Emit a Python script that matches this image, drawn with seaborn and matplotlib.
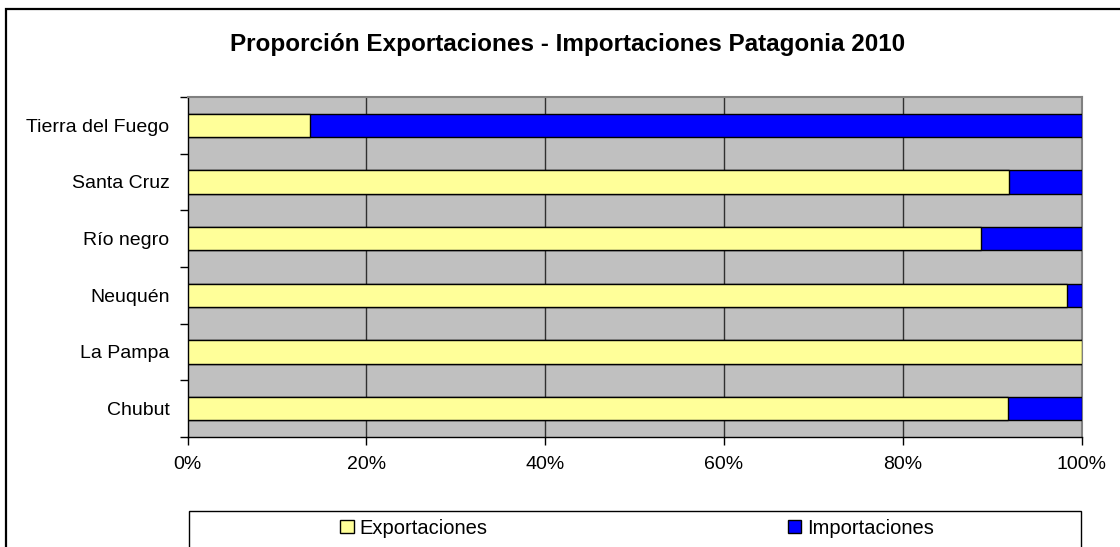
import matplotlib
matplotlib.use("Agg")
import matplotlib.pyplot as plt
import matplotlib.patches as mpatches
from matplotlib.ticker import FixedLocator, PercentFormatter
import numpy as np
import pandas as pd
import seaborn as sns

provincias = ["Tierra del Fuego", "Santa Cruz", "Río negro", "Neuquén", "La Pampa", "Chubut"]
exportaciones = [13.7, 91.9, 88.8, 98.4, 100.0, 91.75]
importaciones = [86.3, 8.1, 11.2, 1.6, 0.0, 8.25]
x_ticks = [0, 20, 40, 60, 80, 100]

df = pd.DataFrame({
    "provincia": provincias,
    "exp": exportaciones,
    "imp": importaciones,
})
df["total"] = df["exp"] + df["imp"]

sns.set_theme(style="white")
plt.rcParams["font.family"] = ["Liberation Sans", "DejaVu Sans"]
plt.rcParams["text.color"] = "black"
plt.rcParams["xtick.color"] = "black"
plt.rcParams["ytick.color"] = "black"
plt.rcParams["axes.labelcolor"] = "black"

W, H = 1120, 547
fig = plt.figure(figsize=(W / 100, H / 100), dpi=100)
ax = fig.add_axes([187.5 / W, 1 - 437 / H, (1081.5 - 187.5) / W, (437 - 97) / H])
ax.set_facecolor("#C0C0C0")

col_exp = "#FFFF99"
col_imp = "#0000FF"

# stacked horizontal bars: full length in blue, exports drawn over it
sns.barplot(data=df, y="provincia", x="total", orient="h", color=col_imp,
            saturation=1, width=0.41, edgecolor="black", linewidth=1, ax=ax, zorder=3)
sns.barplot(data=df, y="provincia", x="exp", orient="h", color=col_exp,
            saturation=1, width=0.41, edgecolor="black", linewidth=1, ax=ax, zorder=4)

ax.set_xlim(0, 100)
ax.set_ylim(len(provincias) - 0.5, -0.5)
ax.set_xticks(x_ticks)
ax.xaxis.set_major_formatter(PercentFormatter(decimals=0))
ax.set_xlabel("")
ax.set_ylabel("")

for v in x_ticks[1:-1]:
    ax.axvline(v, color="#303030", linewidth=1, zorder=1)

ax.tick_params(axis="x", which="major", direction="out", length=6, width=1,
               color="black", labelcolor="black", labelsize=14, pad=8, bottom=True)
ax.tick_params(axis="y", which="major", length=0, labelsize=14, pad=13,
               labelcolor="black", left=True)
ax.yaxis.set_minor_locator(FixedLocator(np.arange(-0.5, len(provincias), 1.0)))
ax.tick_params(axis="y", which="minor", direction="out", length=6, width=1,
               color="black", left=True)

for side in ("left", "bottom"):
    ax.spines[side].set_color("black")
    ax.spines[side].set_linewidth(1)
for side in ("top", "right"):
    ax.spines[side].set_color("#808080")
    ax.spines[side].set_linewidth(1.5)

fig.text(568 / W, 1 - 45 / H, "Proporción Exportaciones - Importaciones Patagonia 2010",
         ha="center", va="center", fontsize=17.5, fontweight="bold", color="black")

# outer chart frame
fig.patches.append(mpatches.Rectangle((6 / W, -0.1), 1.2, 1.1 - 8.5 / H, transform=fig.transFigure,
                                      fill=False, edgecolor="black", linewidth=1.6, clip_on=False))
# legend frame
fig.patches.append(mpatches.Rectangle((188.5 / W, -0.1), (1081 - 188.5) / W, 0.1 + 1 - 510.5 / H,
                                      transform=fig.transFigure, fill=False, edgecolor="black",
                                      linewidth=1, clip_on=False))

h_exp = mpatches.Patch(facecolor=col_exp, edgecolor="black", linewidth=1, label="Exportaciones")
h_imp = mpatches.Patch(facecolor=col_imp, edgecolor="black", linewidth=1, label="Importaciones")
for h, cx in ((h_exp, 414), (h_imp, 861)):
    fig.legend(handles=[h], loc="center", bbox_to_anchor=(cx / W, 1 - 528 / H),
               frameon=False, fontsize=14.5, handlelength=0.65, handleheight=0.65,
               handletextpad=0.3, borderpad=0)

fig.savefig("out.png", dpi=100)
